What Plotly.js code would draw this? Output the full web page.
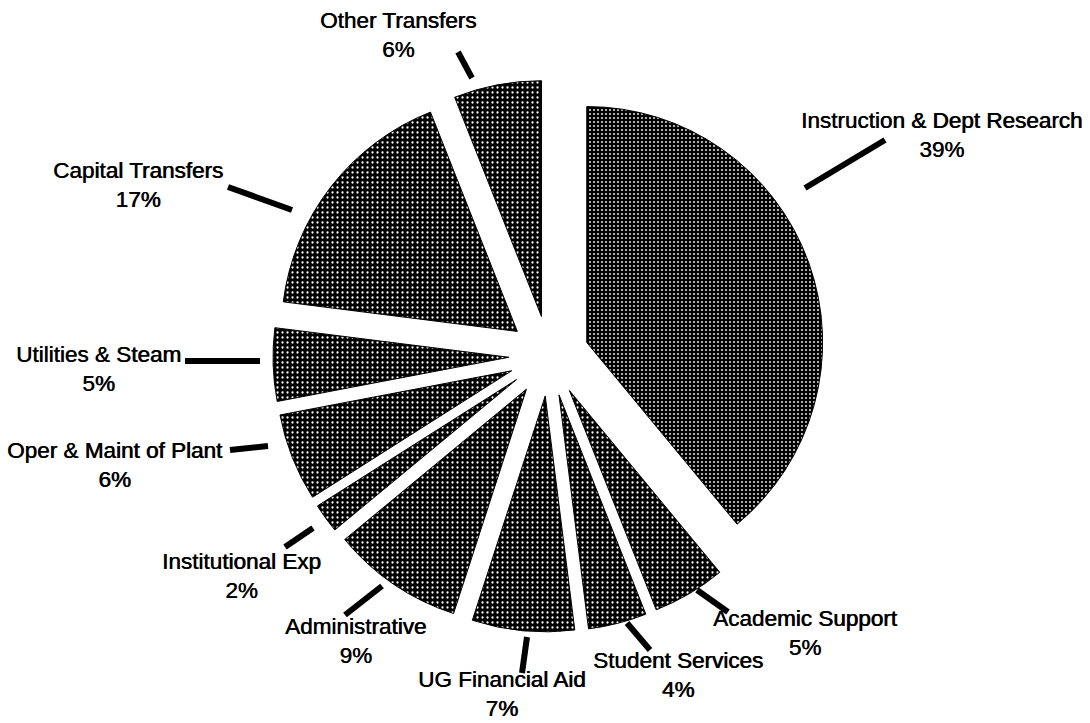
<!DOCTYPE html>
<html>
<head>
<meta charset="utf-8">
<script src="https://cdn.plot.ly/plotly-3.0.1.min.js"></script>
<style>
  html, body { margin: 0; padding: 0; background: #ffffff; }
  #chart { width: 1090px; height: 723px; }
</style>
</head>
<body>
<div id="chart"></div>
<script>
// ---- Data (clockwise from 12 o'clock) ----
const categories = [
  "Instruction & Dept Research",
  "Academic Support",
  "Student Services",
  "UG Financial Aid",
  "Administrative",
  "Institutional Exp",
  "Oper & Maint of Plant",
  "Utilities & Steam",
  "Capital Transfers",
  "Other Transfers"
];
const percents = [39, 5, 4, 7, 9, 2, 6, 5, 17, 6];

// ---- Layout / style (pixel positions of labels and leader lines) ----
const W = 1090, H = 723;
const M = { l: 100, r: 92, t: 80, b: 91 };
const plotW = W - M.l - M.r, plotH = H - M.t - M.b;
const labelPx = [
  [941, 135], [805, 633], [678, 675], [502, 694], [355, 641],
  [241, 576], [115, 465], [98, 369], [138, 185], [398, 35]
];
const leaderPx = [
  [805, 188, 885, 140], [697, 590, 728, 612], [627, 623, 650, 650],
  [522, 673, 527, 637], [345, 615, 382, 586], [285, 547, 313, 528],
  [230, 450, 268, 446], [185, 361, 260, 361], [228, 187, 292, 210],
  [458, 52, 472, 78]
];
const dotSize = [4, 5, 5, 5, 5, 5, 5, 5, 5, 5];

const px2x = p => (p - M.l) / plotW;
const px2y = p => 1 - (p - M.t) / plotH;

const labelFont = {
  family: "Liberation Sans, Arial, Helvetica, sans-serif",
  size: 22.5,
  color: "#000000",
  shadow: "0.6px 0px 0px #000000"
};

const trace = {
  type: "pie",
  labels: categories,
  values: percents,
  sort: false,
  direction: "clockwise",
  rotation: 0,
  pull: 0.17,
  textinfo: "none",
  hoverinfo: "label+percent",
  showlegend: false,
  marker: {
    colors: categories.map(() => "#000000"),
    line: { color: "#000000", width: 1 },
    pattern: {
      shape: ".",
      fgcolor: "#ffffff",
      bgcolor: "#000000",
      size: dotSize,
      solidity: 0.16,
      fillmode: "replace"
    }
  }
};

const annotations = categories.map((c, i) => ({
  xref: "paper", yref: "paper",
  x: px2x(labelPx[i][0]), y: px2y(labelPx[i][1]),
  xanchor: "center", yanchor: "middle",
  align: "center",
  showarrow: false,
  text: c + "<br>" + percents[i] + "%",
  font: labelFont
}));

const shapes = leaderPx.map(s => ({
  type: "line",
  xref: "paper", yref: "paper",
  x0: px2x(s[0]), y0: px2y(s[1]),
  x1: px2x(s[2]), y1: px2y(s[3]),
  line: { color: "#000000", width: 6 }
}));

const layout = {
  width: W, height: H,
  margin: M,
  paper_bgcolor: "#ffffff",
  plot_bgcolor: "#ffffff",
  showlegend: false,
  annotations: annotations,
  shapes: shapes
};

Plotly.newPlot("chart", [trace], layout, { displayModeBar: false, staticPlot: true });
</script>
</body>
</html>
